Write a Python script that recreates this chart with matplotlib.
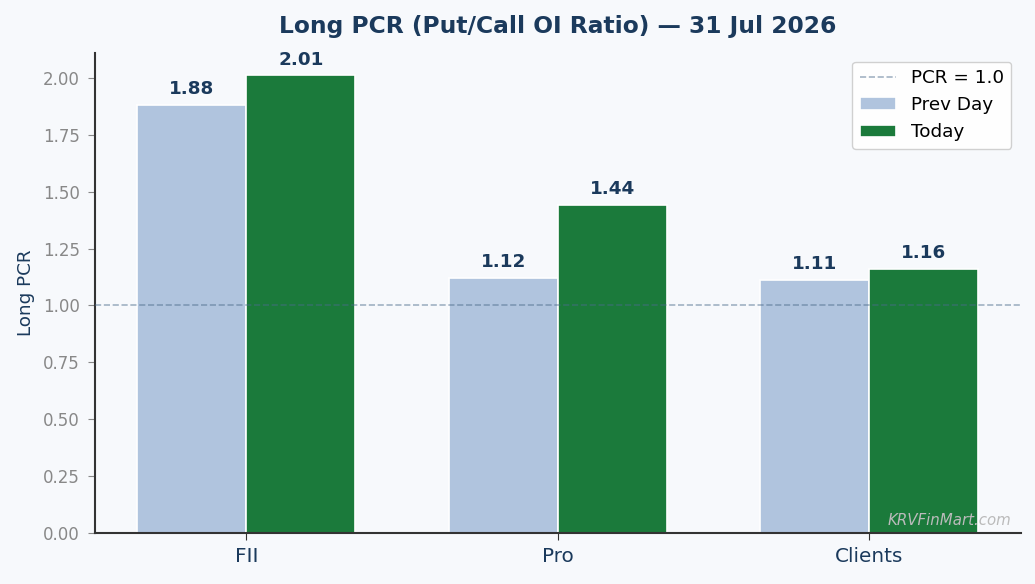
import matplotlib
matplotlib.use("Agg")
import matplotlib.pyplot as plt
import numpy as np

plt.rcParams['font.family'] = ['DejaVu Sans']

categories = ["FII", "Pro", "Clients"]
prev_day = [1.88, 1.12, 1.11]
today = [2.01, 1.44, 1.16]
title = "Long PCR (Put/Call OI Ratio) — 31 Jul 2026"

navy = "#1b3a5c"
bg = "#f7f9fc"

fig, ax = plt.subplots(figsize=(10.35, 5.84), dpi=100)
fig.patch.set_facecolor(bg)
ax.set_facecolor(bg)

x = np.arange(len(categories))
w = 0.35
b1 = ax.bar(x - w/2, prev_day, w, color="#b0c4de", edgecolor="white", linewidth=1.2, label="Prev Day")
b2 = ax.bar(x + w/2, today, w, color="#1b7a3b", edgecolor="white", linewidth=1.2, label="Today")
ax.axhline(1.0, color="#4a6a8a", linestyle="--", linewidth=1.2, alpha=0.5, label="PCR = 1.0", zorder=3)

for bars, vals in ((b1, prev_day), (b2, today)):
    for r, v in zip(bars, vals):
        ax.annotate(f"{v:.2f}", (r.get_x() + r.get_width()/2, v), xytext=(0, 5),
                    textcoords="offset points", ha="center", va="bottom",
                    fontsize=13.2, fontweight="bold", color=navy)

ax.set_ylim(0, max(today + prev_day) * 1.05)
ax.set_xticks(x)
ax.set_xticklabels(categories, fontsize=14.4, color=navy)
ax.tick_params(axis="y", labelsize=12, labelcolor="#888888", color="#888888", length=5, pad=6)
ax.tick_params(axis="x", color="#333333", length=5, pad=5)
ax.set_ylabel("Long PCR", fontsize=13.2, color=navy, labelpad=6)
ax.set_title(title, fontsize=16.8, fontweight="bold", color=navy, pad=14)
for s in ("top", "right"):
    ax.spines[s].set_visible(False)
for s in ("left", "bottom"):
    ax.spines[s].set_color("#333333")
    ax.spines[s].set_linewidth(1.5)

handles, labels = ax.get_legend_handles_labels()
order = [labels.index("PCR = 1.0"), labels.index("Prev Day"), labels.index("Today")]
ax.legend([handles[i] for i in order], [labels[i] for i in order], loc="upper right",
          fontsize=13.2, facecolor="white", framealpha=0.9)

ax.text(0.99, 0.01, "KRVFinMart.com", transform=ax.transAxes, ha="right", va="bottom",
        fontsize=10.8, style="italic", color="#bbbbbb")

plt.subplots_adjust(left=0.092, right=0.986, top=0.91, bottom=0.087)
fig.savefig("out.png", dpi=100, facecolor=bg)
